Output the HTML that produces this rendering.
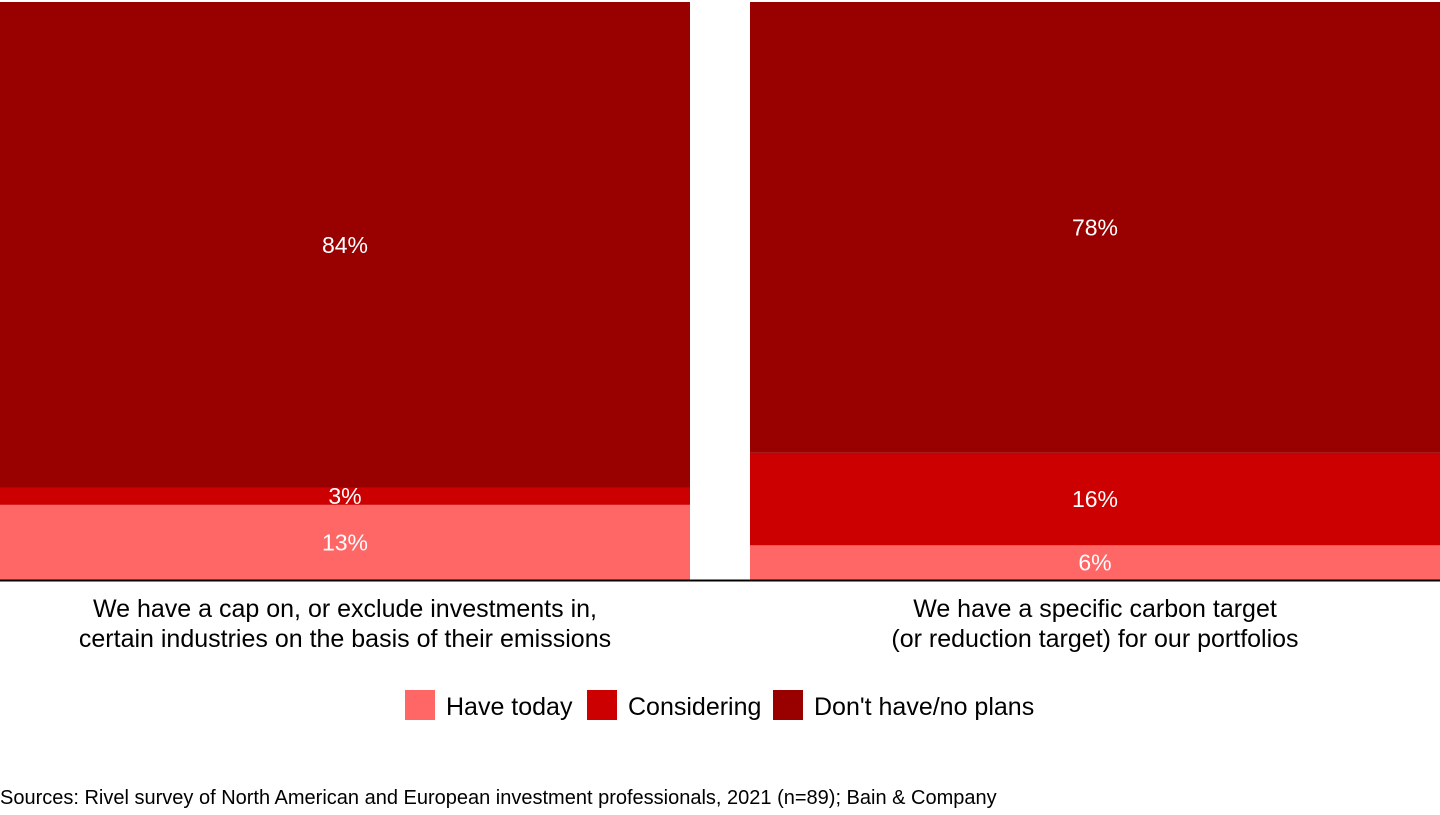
<!DOCTYPE html>
<html><head><meta charset="utf-8"><style>
body{margin:0;width:1440px;height:810px;background:#fff;overflow:hidden;font-family:"Liberation Sans",Arial,sans-serif;}
svg text{font-family:"Liberation Sans",Arial,sans-serif;}
</style></head><body>
<svg id="chart" width="1440" height="810" xmlns="http://www.w3.org/2000/svg"></svg>
<script>
const categories = [["We have a cap on, or exclude investments in,","certain industries on the basis of their emissions"],["We have a specific carbon target","(or reduction target) for our portfolios"]];
const seriesNames = ["Have today","Considering","Don't have/no plans"];
const haveToday = [13, 6];
const considering = [3, 16];
const noPlans = [84, 78];
const colors = ["#ff6666","#cc0000","#990000"];
const svg = document.getElementById('chart');
const NS = "http://www.w3.org/2000/svg";
const baseY = 580, topY = 2, plotH = baseY - topY;
const barX = [0, 750], barW = 690;
function y(v){ return baseY - v/100*plotH; }
function mk(tag, attrs, parent){ const e=document.createElementNS(NS,tag); for(const k in attrs) e.setAttribute(k,attrs[k]); (parent||svg).appendChild(e); return e; }
const series = [haveToday, considering, noPlans];
categories.forEach((cat,i)=>{
  let cum = 0;
  series.forEach((s,j)=>{
    const v = s[i];
    const r = mk('rect',{x:barX[i],y:y(cum+v),width:barW,height:y(cum)-y(cum+v),fill:colors[j]});
    
    
    const t = mk('text',{x:barX[i]+barW/2,y:(y(cum)+y(cum+v))/2+8,'text-anchor':'middle','font-size':23,fill:'#fff'});
    t.textContent = v + '%';
    
    
    cum += v;
  });
  cat.forEach((line,k)=>{
    const t = mk('text',{x:barX[i]+barW/2,y:617+k*30,'text-anchor':'middle','font-size':25,fill:'#000'});
    t.textContent = line;
    
    
  });
});
const axis = mk('line',{x1:0,x2:1440,y1:baseY+0.5,y2:baseY+0.5,stroke:'#000','stroke-width':2});


const legX = [405, 587, 773];
seriesNames.forEach((n,j)=>{
  const g = mk('g',{});
  
  
  mk('rect',{x:legX[j],y:690,width:30,height:30,fill:colors[j]},g);
  const t = mk('text',{x:legX[j]+41,y:715,'font-size':25,fill:'#000'},g);
  t.textContent = n;
});
const src = mk('text',{x:0,y:804,'font-size':20,fill:'#000'});
src.textContent = "Sources: Rivel survey of North American and European investment professionals, 2021 (n=89); Bain & Company";


</script>
</body></html>
